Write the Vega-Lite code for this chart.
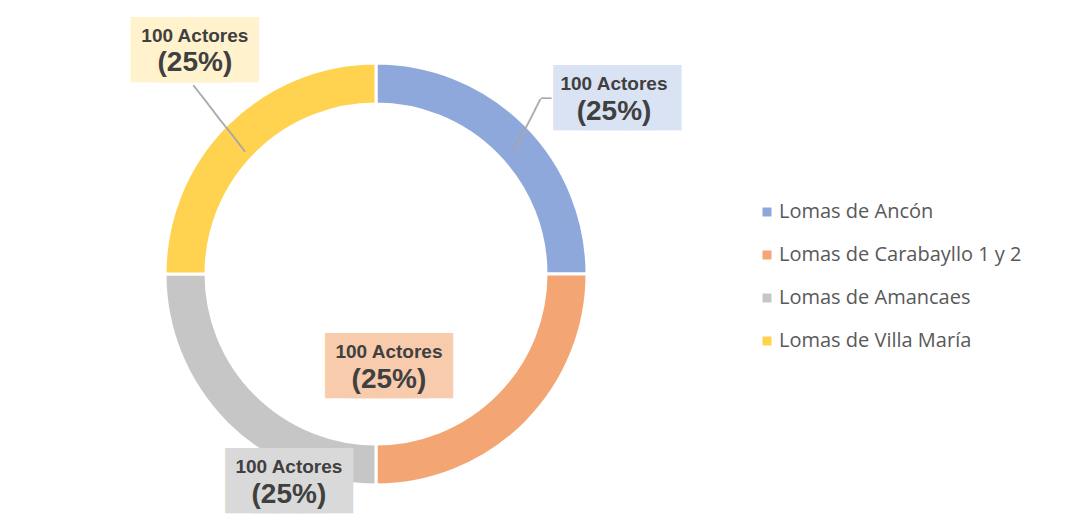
{
  "$schema": "https://vega.github.io/schema/vega-lite/v6.json",
  "width": 752,
  "height": 506,
  "autosize": {"type": "none"},
  "padding": {"left": 0, "top": 21, "right": 319, "bottom": 0},
  "background": "white",
  "config": {"view": {"stroke": null}},
  "data": {"values": [
    {"region": "Lomas de Ancón", "actores": 100, "orden": 1, "etiqueta": "100 Actores", "pct": "(25%)"},
    {"region": "Lomas de Carabayllo 1 y 2", "actores": 100, "orden": 2, "etiqueta": "100 Actores", "pct": "(25%)"},
    {"region": "Lomas de Amancaes", "actores": 100, "orden": 3, "etiqueta": "100 Actores", "pct": "(25%)"},
    {"region": "Lomas de Villa María", "actores": 100, "orden": 4, "etiqueta": "100 Actores", "pct": "(25%)"}
  ]},
  "encoding": {
    "theta": {"field": "actores", "type": "quantitative", "stack": true},
    "order": {"field": "orden", "type": "quantitative"}
  },
  "layer": [
    {
      "mark": {"type": "arc", "innerRadius": 170, "outerRadius": 211, "stroke": "white", "strokeWidth": 3},
      "encoding": {
        "color": {
          "field": "region", "type": "nominal",
          "scale": {
            "domain": ["Lomas de Ancón", "Lomas de Carabayllo 1 y 2", "Lomas de Amancaes", "Lomas de Villa María"],
            "range": ["#8fa8dc", "#f3a673", "#c6c6c6", "#ffd24f"]
          },
          "legend": {
            "orient": "none", "legendX": 757, "legendY": 181, "title": null,
            "symbolType": "square", "symbolSize": 81, "symbolStrokeWidth": 0,
            "labelFont": "Open Sans", "labelFontSize": 20, "labelColor": "#595959",
            "labelOffset": 2, "rowPadding": 23, "labelLimit": 400
          }
        }
      }
    },
    {
      "mark": {"type": "text", "font": "DejaVu Sans", "fontSize": 19, "fill": "#a6a6a6", "thetaOffset": 0.009, "radius": 213, "angle": 297, "align": "center", "baseline": "middle"},
      "encoding": {"detail": {"field": "region"}, "text": {"condition": {"test": "datum.region === 'Lomas de Ancón'", "value": "─────"}, "value": ""}}
    },
    {
      "mark": {"type": "text", "font": "DejaVu Sans", "fontSize": 17, "fill": "#a6a6a6", "thetaOffset": -0.014, "radius": 244, "align": "center", "baseline": "middle"},
      "encoding": {"detail": {"field": "region"}, "text": {"condition": {"test": "datum.region === 'Lomas de Ancón'", "value": "─"}, "value": ""}}
    },
    {
      "mark": {"type": "text", "font": "DejaVu Sans", "fontSize": 19.9, "fill": "#a6a6a6", "thetaOffset": -0.008, "radius": 221, "angle": 52.3, "align": "center", "baseline": "middle"},
      "encoding": {"detail": {"field": "region"}, "text": {"condition": {"test": "datum.region === 'Lomas de Villa María'", "value": "───────"}, "value": ""}}
    },
    {
      "mark": {"type": "text", "font": "DejaVu Sans", "fontSize": 33, "fill": "#dae3f3", "stroke": "#dae3f3", "strokeWidth": 26, "strokeJoin": "miter", "thetaOffset": 0.152, "radius": 299, "dy": 2, "align": "center", "baseline": "middle"},
      "encoding": {"detail": {"field": "region"}, "text": {"condition": {"test": "datum.region === 'Lomas de Ancón'", "value": "████"}, "value": ""}}
    },
    {
      "mark": {"type": "text", "font": "Liberation Sans Narrow, Liberation Sans", "fontWeight": "bold", "fontSize": 19, "fill": "#404040", "thetaOffset": 0.152, "radius": 299, "dx": -3, "dy": -13, "align": "center", "baseline": "middle"},
      "encoding": {"detail": {"field": "region"}, "text": {"condition": {"test": "datum.region === 'Lomas de Ancón'", "field": "etiqueta"}, "value": ""}}
    },
    {
      "mark": {"type": "text", "font": "Liberation Sans Narrow, Liberation Sans", "fontWeight": "bold", "fontSize": 28, "fill": "#404040", "thetaOffset": 0.152, "radius": 299, "dx": -3, "dy": 14.5, "align": "center", "baseline": "middle"},
      "encoding": {"detail": {"field": "region"}, "text": {"condition": {"test": "datum.region === 'Lomas de Ancón'", "field": "pct"}, "value": ""}}
    },
    {
      "mark": {"type": "text", "font": "DejaVu Sans", "fontSize": 33, "fill": "#fff2cc", "stroke": "#fff2cc", "strokeWidth": 26, "strokeJoin": "miter", "thetaOffset": 0.108, "radius": 289, "dy": 2, "align": "center", "baseline": "middle"},
      "encoding": {"detail": {"field": "region"}, "text": {"condition": {"test": "datum.region === 'Lomas de Villa María'", "value": "████"}, "value": ""}}
    },
    {
      "mark": {"type": "text", "font": "Liberation Sans Narrow, Liberation Sans", "fontWeight": "bold", "fontSize": 19, "fill": "#404040", "thetaOffset": 0.108, "radius": 289, "dy": -13, "align": "center", "baseline": "middle"},
      "encoding": {"detail": {"field": "region"}, "text": {"condition": {"test": "datum.region === 'Lomas de Villa María'", "field": "etiqueta"}, "value": ""}}
    },
    {
      "mark": {"type": "text", "font": "Liberation Sans Narrow, Liberation Sans", "fontWeight": "bold", "fontSize": 28, "fill": "#404040", "thetaOffset": 0.108, "radius": 289, "dy": 14.5, "align": "center", "baseline": "middle"},
      "encoding": {"detail": {"field": "region"}, "text": {"condition": {"test": "datum.region === 'Lomas de Villa María'", "field": "pct"}, "value": ""}}
    },
    {
      "mark": {"type": "text", "font": "DejaVu Sans", "fontSize": 33, "fill": "#f8cbad", "stroke": "#f8cbad", "strokeWidth": 26, "strokeJoin": "miter", "thetaOffset": 0.644, "radius": 92, "dy": 2, "align": "center", "baseline": "middle"},
      "encoding": {"detail": {"field": "region"}, "text": {"condition": {"test": "datum.region === 'Lomas de Carabayllo 1 y 2'", "value": "████"}, "value": ""}}
    },
    {
      "mark": {"type": "text", "font": "Liberation Sans Narrow, Liberation Sans", "fontWeight": "bold", "fontSize": 19, "fill": "#404040", "thetaOffset": 0.644, "radius": 92, "dy": -13, "align": "center", "baseline": "middle"},
      "encoding": {"detail": {"field": "region"}, "text": {"condition": {"test": "datum.region === 'Lomas de Carabayllo 1 y 2'", "field": "etiqueta"}, "value": ""}}
    },
    {
      "mark": {"type": "text", "font": "Liberation Sans Narrow, Liberation Sans", "fontWeight": "bold", "fontSize": 28, "fill": "#404040", "thetaOffset": 0.644, "radius": 92, "dy": 14.5, "align": "center", "baseline": "middle"},
      "encoding": {"detail": {"field": "region"}, "text": {"condition": {"test": "datum.region === 'Lomas de Carabayllo 1 y 2'", "field": "pct"}, "value": ""}}
    },
    {
      "mark": {"type": "text", "font": "DejaVu Sans", "fontSize": 33, "fill": "#d9d9d9", "stroke": "#d9d9d9", "strokeWidth": 26, "strokeJoin": "miter", "thetaOffset": -0.386, "radius": 224, "dy": 2, "align": "center", "baseline": "middle"},
      "encoding": {"detail": {"field": "region"}, "text": {"condition": {"test": "datum.region === 'Lomas de Amancaes'", "value": "████"}, "value": ""}}
    },
    {
      "mark": {"type": "text", "font": "Liberation Sans Narrow, Liberation Sans", "fontWeight": "bold", "fontSize": 19, "fill": "#404040", "thetaOffset": -0.386, "radius": 224, "dy": -13, "align": "center", "baseline": "middle"},
      "encoding": {"detail": {"field": "region"}, "text": {"condition": {"test": "datum.region === 'Lomas de Amancaes'", "field": "etiqueta"}, "value": ""}}
    },
    {
      "mark": {"type": "text", "font": "Liberation Sans Narrow, Liberation Sans", "fontWeight": "bold", "fontSize": 28, "fill": "#404040", "thetaOffset": -0.386, "radius": 224, "dy": 14.5, "align": "center", "baseline": "middle"},
      "encoding": {"detail": {"field": "region"}, "text": {"condition": {"test": "datum.region === 'Lomas de Amancaes'", "field": "pct"}, "value": ""}}
    }
  ]
}
